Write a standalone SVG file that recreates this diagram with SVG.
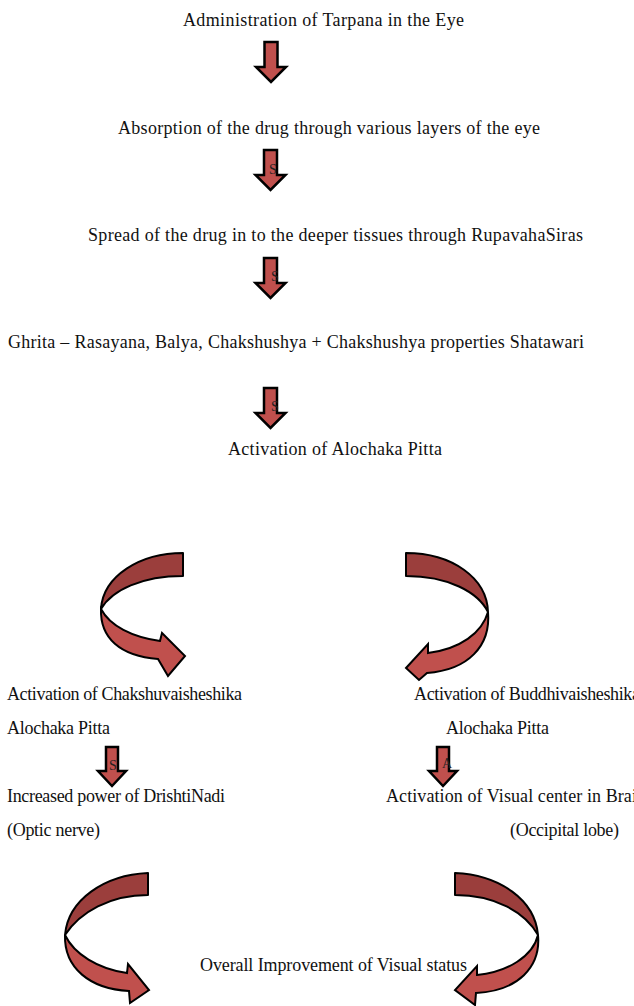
<svg xmlns="http://www.w3.org/2000/svg" width="634" height="1006" viewBox="0 0 634 1006">
<style>
.t{font-family:"Liberation Serif","Times New Roman",serif;font-size:18px;fill:#111}
.s{font-family:"Liberation Serif","Times New Roman",serif;font-size:14px;fill:#222}
.ar{fill:#c0504d;stroke:#000;stroke-width:2.5;stroke-linejoin:miter}
.dk{fill:#9b3e3c;stroke:#000;stroke-width:2;stroke-linejoin:round}
.lt{fill:#c0504d;stroke:#000;stroke-width:2;stroke-linejoin:miter}
</style>
<defs>
<path id="big" d="M-6.5,0 H6.5 V25 H15 L0,40 L-15,25 H-6.5 Z"/>
<path id="small" d="M-6,0 H6 V24 H14 L0,39 L-14,24 H-6 Z"/>
</defs>
<rect width="634" height="1006" fill="#fff"/>
<g id="connectors">
<use href="#big" class="ar" x="271" y="42"/>
<use href="#big" class="ar" x="270.5" y="150"/>
<use href="#big" class="ar" x="270.5" y="258"/>
<use href="#big" class="ar" x="270.5" y="388"/>
<use href="#small" class="ar" x="112" y="747"/>
<use href="#small" class="ar" x="443" y="747"/>
<text class="s" x="269" y="174">S</text>
<text class="s" x="271" y="281">S</text>
<text class="s" x="271" y="411">S</text>
<text class="s" x="109" y="770">S</text>
<text class="s" x="442" y="768">A</text>
<g id="curve-top-left">
<path class="dk" d="M183,553 C140,553 103,576 101,609 C112,590 142,576 183,576 Z"/>
<path class="lt" d="M101,609 C110,626 132,637 160,641 L162,633 L185,656 L168,676 L158,659 C120,656 100,638 101,609 Z"/>
</g>
<g id="curve-top-right">
<path class="dk" d="M406,553 C452,553 487,578 488,612 C478,592 448,576 406,576 Z"/>
<path class="lt" d="M488,612 C482,633 460,649 428,653 L428,644 L406,668 L419,680 L427,673 C468,670 491,646 488,612 Z"/>
</g>
<g id="curve-bottom-left">
<path class="dk" d="M148,873 C104,875 68,900 65,935 C80,912 110,895 148,895 Z"/>
<path class="lt" d="M65,935 C74,954 98,969 127,973 L128,964 L149,990 L130,1003 L129,991 C90,989 64,968 65,935 Z"/>
</g>
<g id="curve-bottom-right">
<path class="dk" d="M455,873 C500,875 535,900 538,935 C525,912 495,895 455,895 Z"/>
<path class="lt" d="M538,935 C533,956 508,972 477,975 L477,966 L455,990 L475,1005 L476,993 C518,991 541,967 538,935 Z"/>
</g>
</g>
<g id="n1"><text class="t" x="183" y="26" textLength="281">Administration of Tarpana in the Eye</text></g>
<g id="n2"><text class="t" x="118" y="134" textLength="422">Absorption of the drug through various layers of the eye</text></g>
<g id="n3"><text class="t" x="88" y="241" textLength="495">Spread of the drug in to the deeper tissues through RupavahaSiras</text></g>
<g id="n4"><text class="t" x="8" y="348" textLength="576">Ghrita – Rasayana, Balya, Chakshushya + Chakshushya properties Shatawari</text></g>
<g id="n5"><text class="t" x="228" y="455" textLength="214">Activation of Alochaka Pitta</text></g>
<g id="n6">
<text class="t" x="7" y="700" textLength="235">Activation of Chakshuvaisheshika</text>
<text class="t" x="7" y="734" textLength="103">Alochaka Pitta</text>
</g>
<g id="n7">
<text class="t" x="414" y="700" textLength="226">Activation of Buddhivaisheshika</text>
<text class="t" x="446" y="734" textLength="103">Alochaka Pitta</text>
</g>
<g id="n8">
<text class="t" x="7" y="802" textLength="218">Increased power of DrishtiNadi</text>
<text class="t" x="7" y="836" textLength="93">(Optic nerve)</text>
</g>
<g id="n9">
<text class="t" x="386" y="802" textLength="260">Activation of Visual center in Brain</text>
<text class="t" x="510" y="836" textLength="109">(Occipital lobe)</text>
</g>
<g id="n10"><text class="t" x="200" y="971" textLength="267">Overall Improvement of Visual status</text></g>
</svg>
